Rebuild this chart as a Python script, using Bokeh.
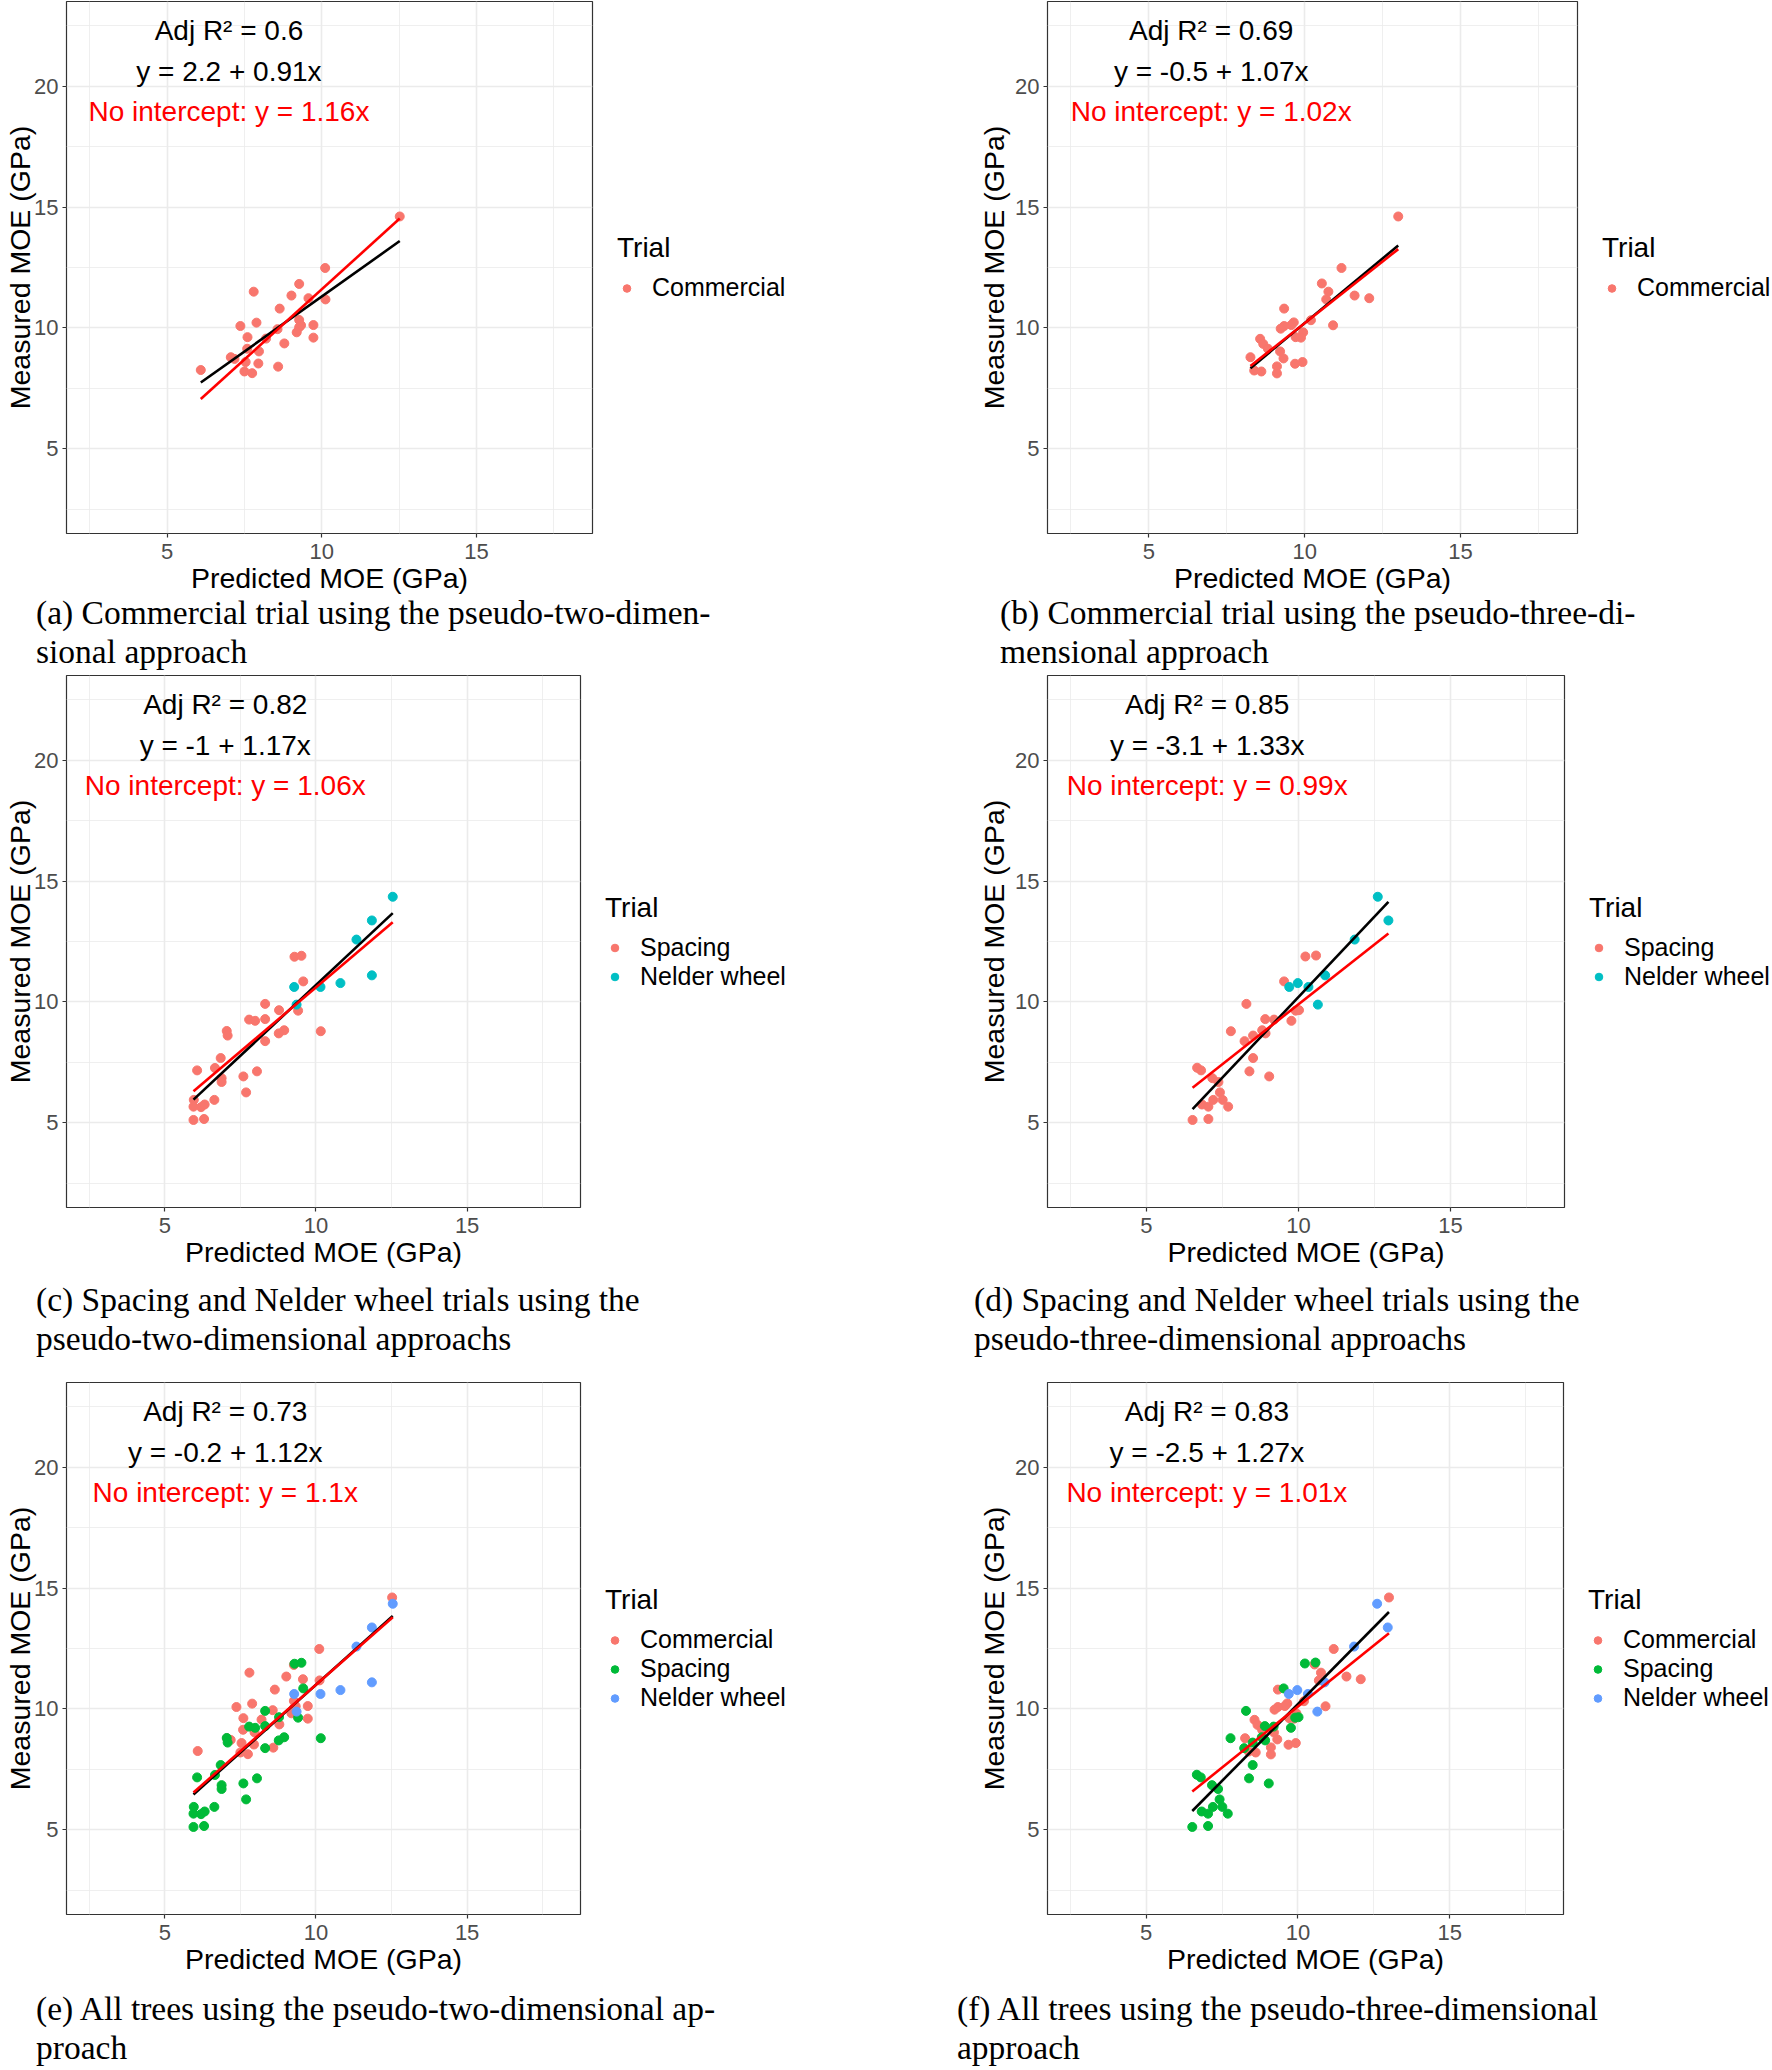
from bokeh.plotting import figure
from bokeh.models import ColumnDataSource, Legend, LegendItem, FixedTicker, Range1d, Div
from bokeh.layouts import column, row
from bokeh.core.properties import value
from bokeh.embed import file_html
from bokeh.resources import INLINE

# ---------------- data ----------------
# Commercial trial
com_pred_2d = [12.52, 10.11, 9.27, 7.80, 9.02, 9.57, 10.12, 8.64, 9.27, 9.33, 9.27, 9.19, 9.73, 7.37, 7.89,
               8.57, 7.60, 9.73, 8.20, 8.79, 7.59, 7.97, 7.06, 7.18, 7.54, 7.95, 6.09, 7.50, 7.75, 8.59]
com_meas_2d = [14.61, 12.48, 11.82, 11.50, 11.34, 11.23, 11.18, 10.80, 10.33, 10.11, 10.03, 9.82, 10.12, 10.08, 10.22,
               9.95, 9.62, 9.60, 9.56, 9.36, 9.14, 9.03, 8.79, 8.72, 8.59, 8.53, 8.26, 8.20, 8.13, 8.40]
com_pred_3d = [13.00, 11.18, 10.55, 10.76, 10.69, 11.60, 12.07, 9.34, 10.20, 9.65, 9.57, 9.34, 9.23, 10.91, 9.95,
               9.71, 9.88, 8.57, 8.67, 8.82, 9.21, 8.26, 9.32, 9.11, 9.69, 9.93, 8.38, 8.61, 9.11]
com_meas_3d = [14.61, 12.48, 11.84, 11.50, 11.18, 11.34, 11.23, 10.80, 10.32, 10.23, 10.12, 10.08, 9.97, 10.11, 9.82,
               9.62, 9.60, 9.55, 9.34, 9.14, 9.03, 8.79, 8.74, 8.41, 8.52, 8.59, 8.24, 8.20, 8.12]
# Spacing trial
spa_pred_2d = [9.29, 9.52, 9.58, 8.32, 8.78, 9.41, 7.79, 7.99, 8.32, 8.95, 8.77, 8.32, 10.16, 7.05, 7.08,
               6.85, 6.66, 6.88, 6.88, 6.07, 7.60, 8.05, 7.69, 5.96, 5.95, 6.20, 6.32, 6.64, 5.95, 6.30]
spa_meas_2d = [11.87, 11.91, 10.85, 9.92, 9.66, 9.64, 9.27, 9.22, 9.29, 8.83, 8.70, 8.38, 8.79, 8.80, 8.61,
               7.68, 7.27, 6.85, 6.69, 7.17, 6.92, 7.13, 6.26, 5.95, 5.67, 5.65, 5.76, 5.95, 5.12, 5.16]
spa_pred_3d = [10.23, 10.58, 9.53, 8.29, 9.91, 10.02, 8.91, 9.20, 9.77, 8.81, 8.92, 8.51, 7.78, 8.23, 8.51,
               8.39, 9.04, 6.67, 6.80, 7.17, 7.37, 7.42, 6.83, 7.04, 7.20, 7.51, 7.69, 6.52, 7.04]
spa_meas_3d = [11.88, 11.92, 10.85, 9.92, 9.64, 9.66, 9.29, 9.27, 9.22, 8.83, 8.70, 8.61, 8.79, 8.38, 7.68,
               7.13, 6.92, 7.28, 7.17, 6.85, 6.69, 6.26, 5.76, 5.67, 5.95, 5.95, 5.67, 5.12, 5.16]
# Nelder wheel trial
nel_pred_2d = [12.54, 11.85, 11.34, 11.85, 10.81, 9.28, 10.15, 9.36]
nel_meas_2d = [14.35, 13.37, 12.58, 11.10, 10.78, 10.62, 10.62, 9.89]
nel_pred_3d = [12.61, 12.96, 11.85, 10.88, 9.98, 9.70, 10.33, 10.64]
nel_meas_3d = [14.35, 13.37, 12.58, 11.10, 10.78, 10.62, 10.62, 9.89]

# fit statistics for panels a-f
adj_r2 = [0.6, 0.69, 0.82, 0.85, 0.73, 0.83]
intercept = [2.2, -0.5, -1, -3.1, -0.2, -2.5]
slope = [0.91, 1.07, 1.17, 1.33, 1.12, 1.27]
slope_no_int = [1.16, 1.02, 1.06, 0.99, 1.1, 1.01]

x_ticks = [5, 10, 15]
x_minor = [2.5, 7.5, 12.5, 17.5]
y_ticks = [5, 10, 15, 20]
y_minor = [2.5, 7.5, 12.5, 17.5, 22.5]

captions = [
    ("(a) Commercial trial using the pseudo-two-dimen-", "sional approach"),
    ("(b) Commercial trial using the pseudo-three-di-", "mensional approach"),
    ("(c) Spacing and Nelder wheel trials using the", "pseudo-two-dimensional approachs"),
    ("(d) Spacing and Nelder wheel trials using the", "pseudo-three-dimensional approachs"),
    ("(e) All trees using the pseudo-two-dimensional ap-", "proach"),
    ("(f) All trees using the pseudo-three-dimensional", "approach"),
]

C1, C2a, C2b, C3a, C3b = "#F8766D", "#00BFC4", "#F8766D", "#00BA38", "#619CFF"
groups = [
    [("Commercial", com_pred_2d, com_meas_2d, C1)],
    [("Commercial", com_pred_3d, com_meas_3d, C1)],
    [("Spacing", spa_pred_2d, spa_meas_2d, C2b), ("Nelder wheel", nel_pred_2d, nel_meas_2d, C2a)],
    [("Spacing", spa_pred_3d, spa_meas_3d, C2b), ("Nelder wheel", nel_pred_3d, nel_meas_3d, C2a)],
    [("Commercial", com_pred_2d, com_meas_2d, C1), ("Spacing", spa_pred_2d, spa_meas_2d, C3a),
     ("Nelder wheel", nel_pred_2d, nel_meas_2d, C3b)],
    [("Commercial", com_pred_3d, com_meas_3d, C1), ("Spacing", spa_pred_3d, spa_meas_3d, C3a),
     ("Nelder wheel", nel_pred_3d, nel_meas_3d, C3b)],
]

# ---------------- styling / layout ----------------
SANS = "Liberation Sans"
SERIF = "Liberation Serif"
FRAME_H = 534
BOTTOM_B = 61
RB = 2
frame_ws = [526, 530, 514, 517, 514, 516]
top_bs = [1, 1, 2, 2, 2, 2]
LEFT_W, RIGHT_W = 940, 832
LEG_GAP = 25


def make_panel(i):
    left = (i % 2 == 0)
    lb = 66 if left else 107
    fw = frame_ws[i]
    tb = top_bs[i]
    H = tb + FRAME_H + BOTTOM_B
    p = figure(width=lb + fw + RB, height=H,
               x_range=Range1d(1.75, 18.75), y_range=Range1d(1.5, 23.5),
               output_backend="svg", toolbar_location=None,
               min_border_left=lb, min_border_right=RB,
               min_border_top=tb, min_border_bottom=BOTTOM_B,
               background_fill_color="white", border_fill_color="white",
               outline_line_color="#333333", outline_line_width=1.2)
    p.xaxis.ticker = FixedTicker(ticks=x_ticks, minor_ticks=x_minor)
    p.yaxis.ticker = FixedTicker(ticks=y_ticks, minor_ticks=y_minor)
    for ax in (p.xaxis[0], p.yaxis[0]):
        ax.axis_line_color = None
        ax.major_tick_line_color = "#333333"
        ax.major_tick_line_width = 1.2
        ax.major_tick_out = 4
        ax.major_tick_in = 0
        ax.minor_tick_line_color = None
        ax.major_label_text_font = SANS
        ax.major_label_text_font_size = "22px"
        ax.major_label_text_color = "#4D4D4D"
        ax.axis_label_text_font = SANS
        ax.axis_label_text_font_size = "28.5px"
        ax.axis_label_text_font_style = "normal"
        ax.axis_label_text_color = "black"
    p.xaxis.axis_label = "Predicted MOE (GPa)"
    p.yaxis.axis_label = "Measured MOE (GPa)"
    p.xaxis.major_label_standoff = 6
    p.xaxis.axis_label_standoff = 0
    p.yaxis.major_label_standoff = 4
    p.yaxis.axis_label_standoff = -5 if left else 2
    for g in (p.xgrid[0], p.ygrid[0]):
        g.grid_line_color = "#EBEBEB"
        g.grid_line_width = 1.6
        g.minor_grid_line_color = "#EBEBEB"
        g.minor_grid_line_width = 0.8

    all_x = []
    for name, xs, ys, col in groups[i]:
        p.scatter(xs, ys, size=9, fill_color=col, line_color=col)
        all_x += xs
    x0, x1 = min(all_x), max(all_x)
    p.line([x0, x1], [intercept[i] + slope[i] * x0, intercept[i] + slope[i] * x1],
           line_color="black", line_width=2.6)
    p.line([x0, x1], [slope_no_int[i] * x0, slope_no_int[i] * x1],
           line_color="red", line_width=2.6)

    ann = ColumnDataSource(dict(
        x=[7, 7, 7], y=[22.3, 20.62, 18.95],
        t=[f"Adj R\u00b2 = {adj_r2[i]:g}", f"y = {intercept[i]:g} + {slope[i]:g}x",
           f"No intercept: y = {slope_no_int[i]:g}x"],
        c=["black", "black", "red"]))
    p.text(x="x", y="y", text="t", text_color="c", source=ann, text_align="center",
           text_baseline="middle", text_font=value(SANS), text_font_size="28px")

    # legend in its own plot to the right, frame aligned with the panel frame
    col_w = LEFT_W if left else RIGHT_W
    lw = col_w - (lb + fw + RB)
    q = figure(width=lw, height=H, x_range=Range1d(-2, -1), y_range=Range1d(-2, -1),
               output_backend="svg", toolbar_location=None,
               x_axis_location=None, y_axis_location=None,
               min_border_left=LEG_GAP - RB, min_border_right=0,
               min_border_top=tb, min_border_bottom=BOTTOM_B,
               outline_line_color=None, background_fill_color="white", border_fill_color="white")
    for g in q.grid:
        g.visible = False
    items = []
    for name, xs, ys, col in groups[i]:
        r = q.scatter(xs, ys, size=9, fill_color=col, line_color=col)
        items.append(LegendItem(label=name, renderers=[r]))
    legend = Legend(items=items, location="center_left",
                    title="Trial", title_text_font=SANS, title_text_font_size="28px",
                    title_text_font_style="normal", title_text_color="black", title_standoff=9,
                    label_text_font=SANS, label_text_font_size="25px", label_text_color="black",
                    glyph_width=19, glyph_height=24, label_height=24, label_standoff=16,
                    spacing=0, padding=0, margin=0,
                    border_line_color=None, background_fill_alpha=0)
    q.add_layout(legend)
    return p, q


def make_caption(i, width, height, shift):
    pads = [36, 60, 36, 34, 36, 17]
    l1, l2 = captions[i]
    html = (f'<div style="font-family:\'{SERIF}\';font-size:33.5px;line-height:39px;'
            f'padding-left:{pads[i]}px;position:relative;top:{shift}px;white-space:nowrap;color:#000">'
            f'{l1}<br>{l2}</div>')
    return Div(text=html, width=width, height=height, margin=0)


panels = [make_panel(i) for i in range(6)]
cap_h = [77, 110, 89]
cap_shift = [-3, 10, 12]
rows = []
for r in range(3):
    pl, ql = panels[2 * r]
    pr, qr = panels[2 * r + 1]
    rows.append(row(pl, ql, pr, qr, spacing=0))
    rows.append(row(make_caption(2 * r, LEFT_W, cap_h[r], cap_shift[r]),
                    make_caption(2 * r + 1, RIGHT_W, cap_h[r], cap_shift[r]), spacing=0))
layout = column(*rows, spacing=0)

open("out.html", "w").write(file_html(layout, INLINE))
